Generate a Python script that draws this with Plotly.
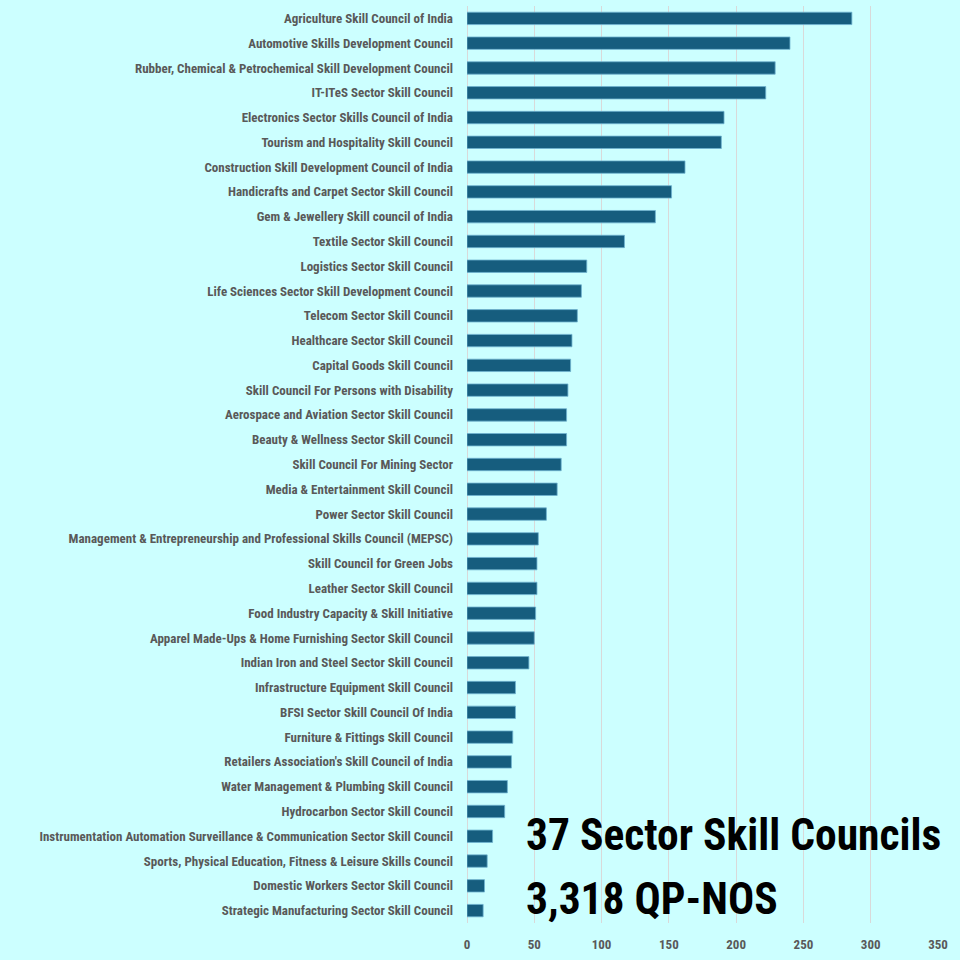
import plotly.graph_objects as go

councils = [
    "Agriculture Skill Council of India",
    "Automotive Skills Development Council",
    "Rubber, Chemical & Petrochemical Skill Development Council",
    "IT-ITeS Sector Skill Council",
    "Electronics Sector Skills Council of India",
    "Tourism and Hospitality Skill Council",
    "Construction Skill Development Council of India",
    "Handicrafts and Carpet Sector Skill Council",
    "Gem & Jewellery Skill council of India",
    "Textile Sector Skill Council",
    "Logistics Sector Skill Council",
    "Life Sciences Sector Skill Development Council",
    "Telecom Sector Skill Council",
    "Healthcare Sector Skill Council",
    "Capital Goods Skill Council",
    "Skill Council For Persons with Disability",
    "Aerospace and Aviation Sector Skill Council",
    "Beauty & Wellness Sector Skill Council",
    "Skill Council For Mining Sector",
    "Media & Entertainment Skill Council",
    "Power Sector Skill Council",
    "Management & Entrepreneurship and Professional Skills Council (MEPSC)",
    "Skill Council for Green Jobs",
    "Leather Sector Skill Council",
    "Food Industry Capacity & Skill Initiative",
    "Apparel Made-Ups & Home Furnishing Sector Skill Council",
    "Indian Iron and Steel Sector Skill Council",
    "Infrastructure Equipment Skill Council",
    "BFSI Sector Skill Council Of India",
    "Furniture & Fittings Skill Council",
    "Retailers Association's Skill Council of India",
    "Water Management & Plumbing Skill Council",
    "Hydrocarbon Sector Skill Council",
    "Instrumentation Automation Surveillance & Communication Sector Skill Council",
    "Sports, Physical Education, Fitness & Leisure Skills Council",
    "Domestic Workers Sector Skill Council",
    "Strategic Manufacturing Sector Skill Council",
]

qp_nos = [286, 240, 229, 222, 191, 189, 162, 152, 140, 117,
          89, 85, 82, 78, 77, 75, 74, 74, 70, 67,
          59, 53, 52, 52, 51, 50, 46, 36, 36, 34,
          33, 30, 28, 19, 15, 13, 12]

x_ticks = [0, 50, 100, 150, 200, 250, 300, 350]

headline = "37 Sector Skill Councils"
subline = "3,318 QP-NOS"

font_name = "Roboto Condensed, Liberation Sans, sans-serif"

fig = go.Figure()
fig.add_trace(go.Bar(
    x=qp_nos, y=councils,
    orientation='h',
    marker=dict(color='#165d7e', line=dict(color='#6fb3cf', width=0.8)),
))

fig.update_layout(
    width=960, height=960,
    margin=dict(l=467, r=22, t=6, b=37),
    paper_bgcolor='#ccffff',
    plot_bgcolor='#ccffff',
    bargap=0.5,
    showlegend=False,
    font=dict(family=font_name, color='#595959', weight='bold'),
)

fig.update_xaxes(range=[0, 350], tickvals=x_ticks, showgrid=True, gridcolor='#d9d9d9',
                 gridwidth=1, zeroline=True, zerolinecolor='#d9d9d9', zerolinewidth=1,
                 tickfont=dict(family=font_name, size=13, color='#595959', weight='bold'),
                 ticklabelstandoff=12)
fig.update_yaxes(autorange='reversed', showgrid=False, ticklabelstandoff=13,
                 tickfont=dict(family=font_name, size=13, color='#595959', weight='bold'))

# big summary text, bottom right
fig.add_annotation(
    xref='paper', yref='paper', x=(524 - 467) / 471, y=(923 - 835) / 917,
    xanchor='left', yanchor='middle',
    text=headline, showarrow=False,
    font=dict(family=font_name, size=43.5, color='black', weight='bold'),
)
fig.add_annotation(
    xref='paper', yref='paper', x=(524 - 467) / 471, y=(923 - 899) / 917,
    xanchor='left', yanchor='middle',
    text=subline, showarrow=False,
    font=dict(family=font_name, size=43.5, color='black', weight='bold'),
)

fig.write_html("out.html", config={'displayModeBar': False},
               post_script="document.body.style.margin='0';document.body.style.padding='0';")
